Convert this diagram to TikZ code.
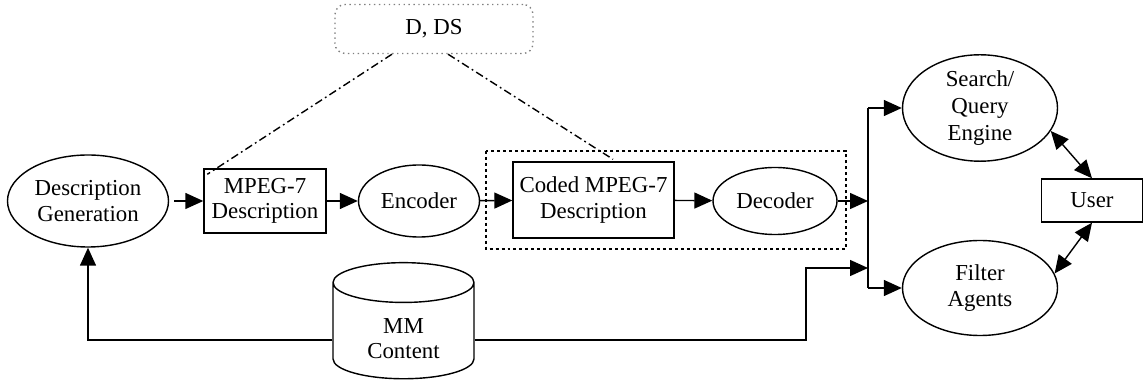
\documentclass[tikz,border=0pt]{standalone}
\usepackage{fontspec}
\setmainfont{Liberation Serif}
\usetikzlibrary{calc}
\usetikzlibrary{arrows.meta}
\usetikzlibrary{shapes.geometric}

\begin{document}
\begin{tikzpicture}[
  line width=0.8pt,
  every node/.style={font=\fontsize{13}{14.5}\selectfont, align=center, inner sep=0pt},
  proc/.style={draw, ellipse},
  docbox/.style={draw, rectangle},
  flow/.style={-{Triangle[length=0.36cm,width=0.32cm]}},
  both/.style={{Triangle[length=0.36cm,width=0.32cm]}-{Triangle[length=0.36cm,width=0.32cm]}},
  link/.style={dash pattern=on 4.5pt off 2pt on 1pt off 2pt},
  ]
  \useasboundingbox (0,0) rectangle (22.96,7.74);

  % Encoding chain
  \node [proc, minimum width=3.22cm, minimum height=1.84cm] (gen) at (1.76,3.72) {Description\\Generation};
  \node [docbox, minimum width=2.44cm, minimum height=1.28cm] (mpeg) at (5.30,3.72) {MPEG-7\\Description};
  \node [proc, minimum width=2.42cm, minimum height=1.44cm] (enc) at (8.38,3.72) {Encoder};
  \node [docbox, minimum width=3.22cm, minimum height=1.52cm] (coded) at (11.87,3.74) {Coded MPEG-7\\Description};
  \node [proc, minimum width=2.48cm, minimum height=1.34cm] (dec) at (15.50,3.72) {Decoder};

  % Dotted frame round coded description and decoder
  \draw [dash pattern=on 1.7pt off 1.7pt] (9.72,4.72) rectangle (16.92,2.76);

  % Descriptors and description schemes
  \node [draw=gray, dotted, rounded corners=0.2cm, minimum width=3.96cm, minimum height=0.98cm] (dds) at (8.68,7.16) {D, DS};

  % Consumers
  \node [proc, minimum width=3.10cm, minimum height=2.06cm, font=\fontsize{13}{15.5}\selectfont] (search) at (19.60,5.58) {Search/\\Query\\Engine};
  \node [proc, minimum width=3.10cm, minimum height=1.90cm] (filter) at (19.60,1.98) {Filter\\Agents};
  \node [docbox, minimum width=2.02cm, minimum height=0.86cm] (user) at (21.84,3.73) {User};

  % Content store
  \node [draw, cylinder, shape border rotate=90, aspect=0.55, minimum width=2.82cm, minimum height=2.2cm] (mm) at (8.07,1.12) {\rule{0pt}{0.6cm}MM\\Content};

  % Bus in front of the consumers
  \coordinate (bustop) at (17.36,5.58);
  \coordinate (busbot) at (17.36,1.98);
  \coordinate (busmm) at (17.36,2.38);

  % Drawing flow arrows
  \draw [flow] ([xshift=0.1cm]gen.east) -- (mpeg.west);
  \draw [flow] (mpeg) -- (enc);
  \draw [flow] (enc) -- (coded);
  \draw [flow] (coded) -- (dec);
  \draw [flow] (dec) -- (dec -| bustop);
  \draw (bustop) -- (busbot);
  \draw [flow] (bustop) -- (search);
  \draw [flow] (busbot) -- (filter);
  \draw [flow] ($(mm.east)+(0,-0.18)$) -| ($(busmm)+(-1.24,0)$) -- (busmm);
  \draw [flow] ($(mm.west)+(0,-0.18)$) -| (gen.south);
  \draw [both] (search.-18) -- (user.north);
  \draw [both] (filter.11) -- (user.south);

  % Drawing dash-dot links to D, DS
  \draw [link] ($(dds.south)+(-0.84,0)$) -- ($(mpeg.north west)+(0.08,-0.12)$);
  \draw [link] ($(dds.south)+(0.28,0)$) -- ($(coded.north)+(0.39,0.04)$);
\end{tikzpicture}
\end{document}
